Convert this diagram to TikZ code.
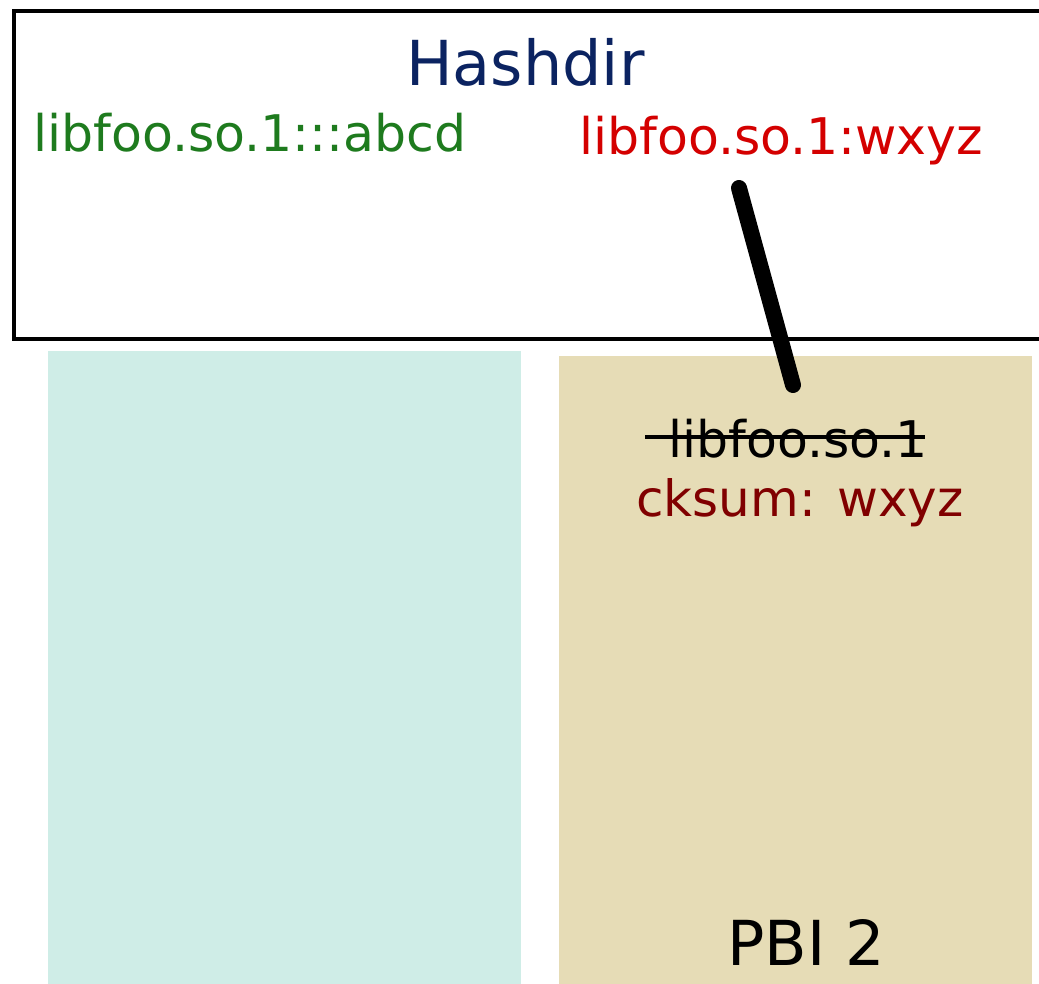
\documentclass[tikz,border=0pt]{standalone}
\usepackage{fontspec}
\setmainfont{DejaVu Sans}
\definecolor{tealbg}{HTML}{CFEDE7}
\definecolor{tanbg}{HTML}{E6DCB6}
\definecolor{navy}{HTML}{0B2361}
\definecolor{libgreen}{HTML}{1E7B1E}
\definecolor{libred}{HTML}{D40000}
\definecolor{darkred}{HTML}{800000}
\tikzset{
  lbl/.style={inner sep=0pt, anchor=base west, font=\fontsize{50.5}{60}\selectfont},
  big/.style={inner sep=0pt, anchor=base, font=\fontsize{62}{72}\selectfont},
}
\begin{document}
\begin{tikzpicture}[x=1pt,y=-1pt]
\fill[white] (0,0) rectangle (1039,984);
\useasboundingbox (0,0) rectangle (1039,984);
\begin{scope}
\clip (0,0) rectangle (1039,984);
% Hashdir box
\draw[line width=4pt] (14,11.5) rectangle (1050,339);
% panels
\fill[tealbg] (48,351) rectangle (520.5,990);
\fill[tanbg] (559,356) rectangle (1031.5,990);
\end{scope}
\node[big, text=navy] (hash) at (525.5,86) {Hashdir};
\node[lbl, text=libgreen] (abcd) at (33,152) {libfoo.so.1:::abcd};
\node[lbl, text=libred] (wxyz) at (579,155) {libfoo.so.1:wxyz};
\node[lbl, text=black] (old) at (668,457) {libfoo.so.1};
\node[lbl, text=darkred, font=\fontsize{50}{60}\selectfont] (cksum) at (636,516) {cksum: wxyz};
\node[big, text=black] (pbi) at (806,965) {PBI 2};
% strike-through
\coordinate (s1) at (645,437);
\coordinate (s2) at (925,437);
\draw[line width=3.5pt] (s1) -- (s2);
% link
\coordinate (l1) at (739,188);
\coordinate (l2) at (793,385);
\draw[line width=16pt, line cap=round] (l1) -- (l2);
\end{tikzpicture}
\end{document}
